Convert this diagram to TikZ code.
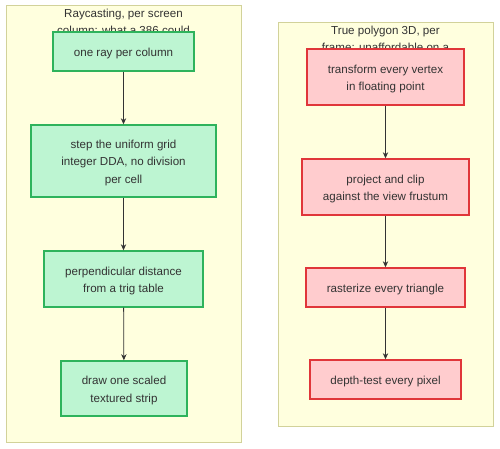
\documentclass[tikz,border=0pt]{standalone}
\usepackage{fontspec}
\setmainfont{Liberation Sans}
\usetikzlibrary{arrows.meta}
\definecolor{clfill}{HTML}{FFFFDE}
\definecolor{cldraw}{HTML}{D2D29A}
\definecolor{gfill}{HTML}{BDF5D2}
\definecolor{gdraw}{HTML}{2EB35C}
\definecolor{rfill}{HTML}{FFCCCE}
\definecolor{rdraw}{HTML}{E0363A}
\definecolor{txt}{HTML}{333333}
\tikzset{
  labfont/.style={text=txt, font=\fontsize{8.7}{13.1}\selectfont, align=center, inner sep=0pt},
  cluster/.style={draw=cldraw, fill=clfill, line width=0.75pt},
  cltitle/.style={labfont},
  boxtext/.style={label={[labfont, yshift=-1.5pt]center:#1}},
  gbox/.style={draw=gdraw, fill=gfill, line width=1.1pt, inner sep=0pt},
  rbox/.style={draw=rdraw, fill=rfill, line width=1.1pt, inner sep=0pt},
  flow/.style={draw=txt, line width=0.6pt, -{Stealth[length=4.5pt,width=4pt]}}
}
\begin{document}
\begin{tikzpicture}[x=0.75pt,y=-0.75pt]
\useasboundingbox (0,0) rectangle (500,449);
\fill[white] (0,0) rectangle (500,449);
% clusters
\draw[cluster] (6,6) rectangle (241,442);
\draw[cluster] (278,23) rectangle (493,426);
\node[cltitle, anchor=north] (t1) at (123.5,8.5) {Raycasting, per screen\\column: what a 386 could};
\node[cltitle, anchor=north] (t2) at (385.5,25.5) {True polygon 3D, per\\frame: unaffordable on a};
% left boxes
\node[gbox, minimum width=141*0.75pt, minimum height=39*0.75pt, boxtext={one ray per column}] (a1) at (123.5,51.5) {};
\node[gbox, minimum width=185*0.75pt, minimum height=72*0.75pt, boxtext={step the uniform grid\\integer DDA, no division\\per cell}] (a2) at (123.5,161) {};
\node[gbox, minimum width=159*0.75pt, minimum height=56*0.75pt, boxtext={perpendicular distance\\from a trig table}] (a3) at (123.5,279) {};
\node[gbox, minimum width=126*0.75pt, minimum height=55*0.75pt, boxtext={draw one scaled\\textured strip}] (a4) at (124,388.5) {};
% right boxes
\node[rbox, minimum width=157*0.75pt, minimum height=56*0.75pt, boxtext={transform every vertex\\in floating point}] (b1) at (385.5,77) {};
\node[rbox, minimum width=167*0.75pt, minimum height=56*0.75pt, boxtext={project and clip\\against the view frustum}] (b2) at (385.5,187) {};
\node[rbox, minimum width=159*0.75pt, minimum height=39*0.75pt, boxtext={rasterize every triangle}] (b3) at (385.5,287.5) {};
\node[rbox, minimum width=151*0.75pt, minimum height=39*0.75pt, boxtext={depth-test every pixel}] (b4) at (385.5,379.5) {};
% connectors
\draw[flow] (a1) -- (a2);
\draw[flow] (a2) -- (a3);
\draw[flow] (a3) -- (a4);
\draw[flow] (b1) -- (b2);
\draw[flow] (b2) -- (b3);
\draw[flow] (b3) -- (b4);
\end{tikzpicture}
\end{document}
